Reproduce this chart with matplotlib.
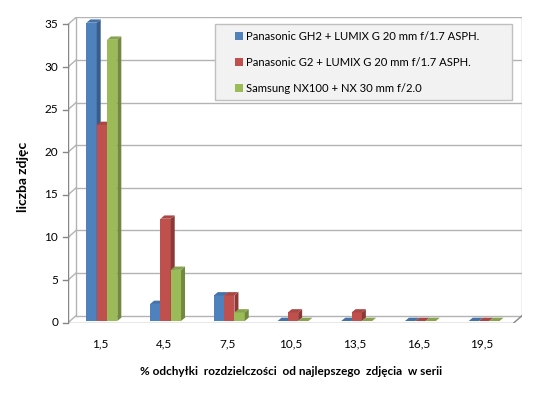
import matplotlib
matplotlib.use("Agg")
import matplotlib.pyplot as plt
from matplotlib.patches import Polygon, Rectangle

categories = ["1,5", "4,5", "7,5", "10,5", "13,5", "16,5", "19,5"]
series_names = ["Panasonic GH2 + LUMIX G 20 mm f/1.7 ASPH.",
                "Panasonic G2 + LUMIX G 20 mm f/1.7 ASPH.",
                "Samsung NX100 + NX 30 mm f/2.0"]
gh2 = [35, 2, 3, 0, 0, 0, 0]
g2 = [23, 12, 3, 1, 1, 0, 0]
nx100 = [33, 6, 1, 0, 0, 0, 0]
y_ticks = [0, 5, 10, 15, 20, 25, 30, 35]

faces = ["#4F81BD", "#C0504D", "#9BBB59"]
sides = ["#385D8A", "#8C3836", "#71893F"]
tops = ["#4572A7", "#A84744", "#87A34E"]
grid_col = "#B3B3B3"

plt.rcParams['font.family'] = ['Lato', 'DejaVu Sans']

W, H = 550, 397
fig = plt.figure(figsize=(W / 100, H / 100), dpi=100)

# plot area in pixels (front-left bottom to back-right top)
left_px, right_px = 68, 522
bottom_px, top_px = 322.7, 17.4
px_x = (514 - 68) / 7.0          # pixels per category
px_y = 298.2 / 35.0               # pixels per unit value
ddx = 8 / px_x                    # depth offset in data units
ddy = 7 / px_y
ymax = 35

ax = fig.add_axes([left_px / W, 1 - bottom_px / H,
                   (right_px - left_px) / W, (bottom_px - top_px) / H])
ax.set_xlim(-0.5, 6.5 + ddx)
ax.set_ylim(0, ymax + ddy)
ax.axis("off")

lw = 1.0
# back wall gridlines and left wall diagonals
for v in y_ticks:
    ax.plot([-0.5 + ddx, 6.5 + ddx], [v + ddy, v + ddy], color=grid_col, lw=lw, zorder=1)
    ax.plot([-0.5, -0.5 + ddx], [v, v + ddy], color=grid_col, lw=lw, zorder=1)
    ax.plot([-0.5 - 5 / px_x, -0.5], [v, v], color="#868686", lw=lw, zorder=1,
            clip_on=False)
    ax.text(-0.5 - 10 / px_x, v, str(v), ha="right", va="center", fontsize=8.5,
            color="#000000")
ax.plot([-0.5 + ddx, -0.5 + ddx], [ddy, ymax + ddy], color=grid_col, lw=lw, zorder=1)
ax.plot([6.5 + ddx, 6.5 + ddx], [ddy, ymax + ddy], color=grid_col, lw=lw, zorder=1)
ax.plot([-0.5, -0.5], [0, ymax], color="#868686", lw=lw, zorder=1)
ax.plot([-0.5, 6.5], [0, 0], color="#868686", lw=lw, zorder=1)
ax.plot([6.5, 6.5 + ddx], [0, ddy], color="#868686", lw=lw, zorder=1)

# bars as pseudo-3D boxes
bw = 10.3 / px_x
ox0, oy0 = 2 / px_x, 1.7 / px_y
bdx, bdy = 4 / px_x, 3.3 / px_y
z = 3
for i in range(len(categories)):
    for s, vals in enumerate([gh2, g2, nx100]):
        v = vals[i]
        x0 = i - 1.5 * bw + s * bw + ox0
        y0 = oy0
        y1 = y0 + v
        ax.add_patch(Rectangle((x0, y0), bw, v, facecolor=faces[s], edgecolor="none", zorder=z))
        ax.add_patch(Polygon([(x0 + bw, y0), (x0 + bw + bdx, y0 + bdy),
                              (x0 + bw + bdx, y1 + bdy), (x0 + bw, y1)],
                             closed=True, facecolor=sides[s], edgecolor="none", zorder=z))
        ax.add_patch(Polygon([(x0, y1), (x0 + bw, y1), (x0 + bw + bdx, y1 + bdy),
                              (x0 + bdx, y1 + bdy)],
                             closed=True, facecolor=tops[s], edgecolor="none", zorder=z))
        z += 1
    ax.text(i, -21 / px_y, categories[i], ha="center", va="center", fontsize=8.5)

# legend box
leg_x0, leg_x1 = 214.5, 512
leg_y0, leg_y1 = 24.3, 100
fig.patches.append(Rectangle((leg_x0 / W, 1 - leg_y1 / H), (leg_x1 - leg_x0) / W,
                             (leg_y1 - leg_y0) / H, transform=fig.transFigure,
                             facecolor="#F2F2F2", edgecolor="#BFBFBF", lw=1, zorder=20))
for s, name in enumerate(series_names):
    yc = 36 + s * 26
    fig.patches.append(Rectangle((235 / W, 1 - (yc + 4) / H), 8 / W, 8 / H,
                                 transform=fig.transFigure, facecolor=faces[s],
                                 edgecolor="none", zorder=21))
    fig.text(246 / W, 1 - yc / H, name, ha="left", va="center", fontsize=8.1, zorder=22)

fig.text(291 / W, 1 - 371.5 / H, "% odchyłki  rozdzielczości  od najlepszego  zdjęcia  w serii",
         ha="center", va="center", fontsize=8.5, fontweight="bold")
fig.text(23 / W, 1 - 177 / H, "liczba zdjęc", ha="center", va="center", rotation=90,
         fontsize=10, fontweight="bold")

fig.savefig("out.png", dpi=100)
